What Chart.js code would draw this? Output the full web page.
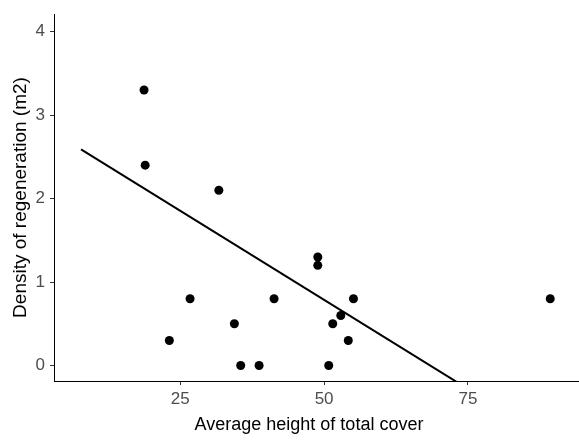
<!DOCTYPE html>
<html>
<head>
<meta charset="utf-8">
<script src="https://cdn.jsdelivr.net/npm/chart.js@4/dist/chart.umd.min.js"></script>
<style>
  html, body { margin: 0; padding: 0; background: #ffffff; }
  #c { display: block; }
</style>
</head>
<body>
<canvas id="c" width="579" height="440"></canvas>
<script>
// ---- data ----
const heightValues = [18.7, 18.9, 31.7, 48.9, 48.9, 26.7, 41.3, 55.1, 89.3, 34.4, 51.5, 52.9, 23.1, 54.2, 35.5, 38.7, 50.8];
const densityValues = [3.3, 2.4, 2.1, 1.3, 1.2, 0.8, 0.8, 0.8, 0.8, 0.5, 0.5, 0.6, 0.3, 0.3, 0, 0, 0];
const trendX = [7.75, 90];
const trendY = [2.59, -0.92];
const xTicks = [25, 50, 75];
const yTicks = [0, 1, 2, 3, 4];
const xTitle = "Average height of total cover";
const yTitle = "Density of regeneration (m2)";

const FONT = "'Liberation Sans', Arial, sans-serif";

const titlePlugin = {
  id: 'axisTitles',
  afterDraw(chart) {
    const ctx = chart.ctx;
    const area = chart.chartArea;
    ctx.save();
    ctx.fillStyle = '#000000';
    ctx.textAlign = 'center';
    ctx.textBaseline = 'alphabetic';
    ctx.font = '18px ' + FONT;
    ctx.fillText(xTitle, 309, 430);
    ctx.font = '19px ' + FONT;
    ctx.translate(26, (area.top + area.bottom) / 2);
    ctx.rotate(-Math.PI / 2);
    ctx.fillText(yTitle, 0, 0);
    ctx.restore();
  }
};

function fixX(scale) { scale.height = 59; scale.paddingLeft = 0; scale.paddingRight = 0; }
function fixY(scale) { scale.width = 54; scale.paddingTop = 0; scale.paddingBottom = 0; }

new Chart(document.getElementById('c'), {
  type: 'scatter',
  data: {
    datasets: [
      {
        type: 'line',
        data: trendX.map((x, i) => ({ x: x, y: trendY[i] })),
        borderColor: '#000000',
        borderWidth: 2,
        pointRadius: 0,
        fill: false,
        clip: 0,
        order: 2
      },
      {
        data: heightValues.map((x, i) => ({ x: x, y: densityValues[i] })),
        backgroundColor: '#000000',
        borderWidth: 0,
        pointRadius: 4.5,
        order: 1
      }
    ]
  },
  options: {
    responsive: false,
    animation: false,
    devicePixelRatio: 1,
    layout: { padding: { top: 14, right: 0, left: 0, bottom: 0 }, autoPadding: false },
    plugins: { legend: { display: false }, tooltip: { enabled: false } },
    scales: {
      x: {
        type: 'linear',
        min: 3.05,
        max: 94.3,
        afterFit: fixX,
        afterBuildTicks(scale) { scale.ticks = xTicks.map(v => ({ value: v })); },
        grid: { drawOnChartArea: false, drawTicks: true, tickLength: 4, color: '#333333', lineWidth: 1 },
        border: { display: true, color: '#000000', width: 1 },
        ticks: { color: '#4d4d4d', font: { family: FONT, size: 17 }, padding: 4, maxRotation: 0 }
      },
      y: {
        type: 'linear',
        min: -0.185,
        max: 4.21,
        afterFit: fixY,
        afterBuildTicks(scale) { scale.ticks = yTicks.map(v => ({ value: v })); },
        grid: { drawOnChartArea: false, drawTicks: true, tickLength: 4, color: '#333333', lineWidth: 1 },
        border: { display: true, color: '#000000', width: 1 },
        ticks: { color: '#4d4d4d', font: { family: FONT, size: 17 }, padding: 5 }
      }
    }
  },
  plugins: [titlePlugin]
});
</script>
</body>
</html>
